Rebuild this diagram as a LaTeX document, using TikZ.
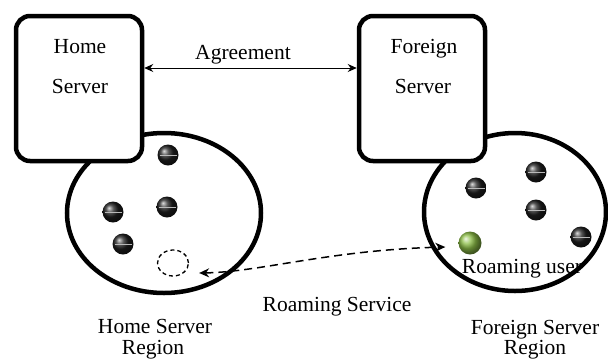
\documentclass[tikz,border=0pt]{standalone}
\usepackage{fontspec}
\setmainfont{Liberation Serif}
\usetikzlibrary{arrows.meta,shapes.geometric,calc}
\definecolor{usergreen}{RGB}{140,190,70}
\tikzset{
  server/.style={draw=black, fill=white, line width=4.5pt, rounded corners=14pt,
    minimum width=126pt, minimum height=145pt, inner sep=0pt},
  region/.style={draw=black, line width=4.5pt, ellipse, inner sep=0pt},
  dot/.style={circle, inner sep=0pt, minimum size=21pt, shading=ball, ball color=black!88,
    path picture={\draw[gray!55, line width=0.6pt]
      ([xshift=2pt]path picture bounding box.west) -- ([xshift=-2pt]path picture bounding box.east);}},
  userdot/.style={circle, inner sep=0pt, minimum size=23pt, shading=ball, ball color=usergreen},
  ghost/.style={draw=black, ellipse, dash pattern=on 4pt off 3pt, line width=1.3pt,
    minimum width=31pt, minimum height=26pt, inner sep=0pt},
  lbl/.style={font=\fontsize{21.5}{24}\selectfont, anchor=base, inner sep=0pt}
}
\begin{document}
\begin{tikzpicture}[x=1pt,y=-1pt]
\useasboundingbox (0,0) rectangle (608,360);
% regions
\node[region, minimum width=194pt, minimum height=160pt] (hreg) at (164,213) {};
\node[region, minimum width=182pt, minimum height=158pt] (freg) at (515,212) {};
% servers
\node[server] (home) at (79,88.5) {};
\node[server] (foreign) at (422,88.5) {};
\node[lbl] (homet1) at (80,53) {Home};
\node[lbl] (homet2) at (80,93) {Server};
\node[lbl] (fort1) at (424,53) {Foreign};
\node[lbl] (fort2) at (423,93) {Server};
% agreement
\draw[line width=1pt, {Stealth[length=9pt,width=8pt]}-{Stealth[length=9pt,width=8pt]}] (home.east |- 0,68) -- (foreign.west |- 0,68);
\node[lbl] (agr) at (243,59) {Agreement};
% home users
\node[dot] (h1) at (168,155) {};
\node[dot] (h2) at (113,212) {};
\node[dot] (h3) at (167,207) {};
\node[dot] (h4) at (123,244) {};
\node[ghost] (gh) at (173,263) {};
% foreign users
\node[dot] (f1) at (476,188) {};
\node[dot] (f2) at (536,172) {};
\node[dot] (f3) at (536,210) {};
\node[dot] (f4) at (581,237) {};
\node[userdot] (ru) at (470,243) {};
\node[lbl] (rut) at (522,273) {Roaming user};
% roaming service
\draw[line width=1.5pt, dash pattern=on 8pt off 5pt, {Stealth[length=10pt,width=9pt]}-{Stealth[length=10pt,width=9pt]}]
  ($(gh.east)+(10,10)$) .. controls (260,272) and (330,250) .. ($(ru.west)+(-13,4)$);
\node[lbl] (rst) at (337,311) {Roaming Service};
% region labels
\node[lbl] (hrt1) at (155,333) {Home Server};
\node[lbl] (hrt2) at (153,354) {Region};
\node[lbl] (frt1) at (535,334) {Foreign Server};
\node[lbl] (frt2) at (535,354) {Region};
\end{tikzpicture}
\end{document}
